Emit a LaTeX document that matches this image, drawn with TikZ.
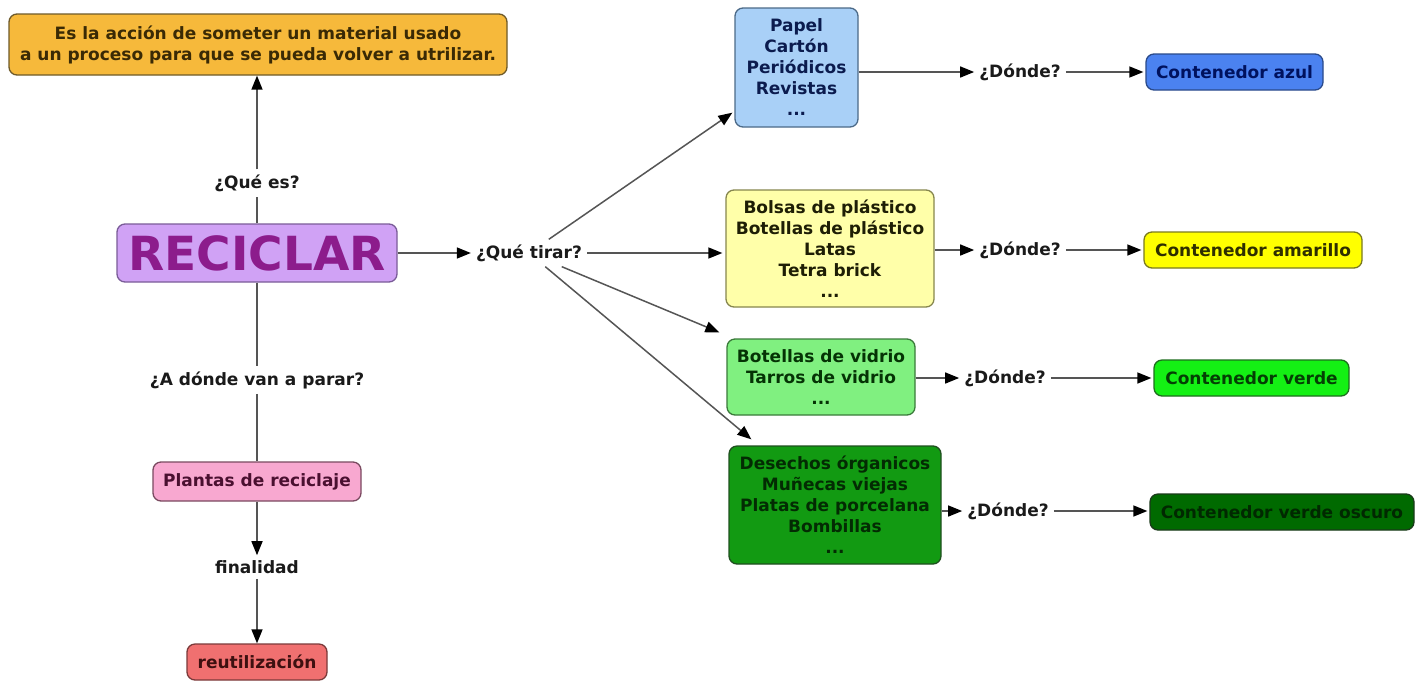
\documentclass[tikz,border=0pt]{standalone}
\usepackage{fontspec}
\setmainfont{DejaVu Sans}
\usetikzlibrary{arrows.meta,calc}
\definecolor{lnc}{HTML}{555555}
\definecolor{txc}{HTML}{1A1A1A}
\definecolor{defF}{HTML}{F6B93B}\definecolor{defT}{HTML}{3A2A05}\definecolor{defD}{HTML}{6E5A2A}
\definecolor{recF}{HTML}{D0A2F5}\definecolor{recT}{HTML}{8C1C8C}\definecolor{recD}{HTML}{7A5C98}
\definecolor{papF}{HTML}{A9D0F7}\definecolor{papT}{HTML}{0B1B4E}\definecolor{papD}{HTML}{4C6A88}
\definecolor{azuF}{HTML}{4B82F0}\definecolor{azuT}{HTML}{00125E}\definecolor{azuD}{HTML}{2A4A8A}
\definecolor{plaF}{HTML}{FFFFA9}\definecolor{plaT}{HTML}{1E1E05}\definecolor{plaD}{HTML}{86864E}
\definecolor{amaF}{HTML}{FFFF00}\definecolor{amaT}{HTML}{2E2E00}\definecolor{amaD}{HTML}{7A7A20}
\definecolor{vidF}{HTML}{80F080}\definecolor{vidT}{HTML}{053305}\definecolor{vidD}{HTML}{3A7A3A}
\definecolor{verF}{HTML}{14F014}\definecolor{verT}{HTML}{043F04}\definecolor{verD}{HTML}{1E6E1E}
\definecolor{orgF}{HTML}{129A12}\definecolor{orgT}{HTML}{032B03}\definecolor{orgD}{HTML}{1F4F1F}
\definecolor{oscF}{HTML}{006A00}\definecolor{oscT}{HTML}{012801}\definecolor{oscD}{HTML}{1A3A1A}
\definecolor{pinF}{HTML}{F8A8D0}\definecolor{pinT}{HTML}{4A1030}\definecolor{pinD}{HTML}{7A4A60}
\definecolor{reuF}{HTML}{F07070}\definecolor{reuT}{HTML}{3E1010}\definecolor{reuD}{HTML}{7A3A3A}
\tikzset{
  box/.style={draw, line width=1.3pt, rounded corners=8pt, align=center, inner sep=2pt,
    font=\fontsize{17}{21}\selectfont\bfseries},
  lbl/.style={align=center, inner sep=5pt, text=txc, font=\fontsize{17}{21}\selectfont\bfseries},
  con/.style={draw=lnc, line width=1.5pt},
  arr/.style={con, -{Triangle[length=14pt,width=11pt,color=black]}},
}
\begin{document}
\begin{tikzpicture}[x=1pt,y=-1pt]
\useasboundingbox[fill=white] (0,0) rectangle (1426,681);
% nodes
\node[box, fill=defF, draw=defD, text=defT, minimum width=498pt, minimum height=61pt] (def) at (258,44.5)
  {Es la acción de someter un material usado\\a un proceso para que se pueda volver a utrilizar.};
\node[box, fill=recF, draw=recD, text=recT, minimum width=280pt, minimum height=58pt,
  font=\fontsize{47}{50}\selectfont\bfseries] (rec) at (257,253) {RECICLAR};
\node[lbl] (quees) at (257,183) {¿Qué es?};
\node[lbl] (adonde) at (257,380) {¿A dónde van a parar?};
\node[box, fill=pinF, draw=pinD, text=pinT, minimum width=208pt, minimum height=39pt] (plantas) at (257,481.5) {Plantas de reciclaje};
\node[lbl] (final) at (257,567) {finalidad};
\node[box, fill=reuF, draw=reuD, text=reuT, minimum width=140pt, minimum height=36pt] (reut) at (257,662) {reutilización};
\node[lbl] (tirar) at (529,253) {¿Qué tirar?};
\node[box, fill=papF, draw=papD, text=papT, minimum width=123pt, minimum height=119pt] (papel) at (796.5,67.5)
  {Papel\\Cartón\\Periódicos\\Revistas\\...};
\node[box, fill=plaF, draw=plaD, text=plaT, minimum width=208pt, minimum height=117pt] (plast) at (830,248.5)
  {Bolsas de plástico\\Botellas de plástico\\Latas\\Tetra brick\\...};
\node[box, fill=vidF, draw=vidD, text=vidT, minimum width=188pt, minimum height=76pt] (vidrio) at (821,377)
  {Botellas de vidrio\\Tarros de vidrio\\...};
\node[box, fill=orgF, draw=orgD, text=orgT, minimum width=212pt, minimum height=118pt] (organ) at (835,505)
  {Desechos órganicos\\Muñecas viejas\\Platas de porcelana\\Bombillas\\...};
\node[lbl] (d1) at (1020,72) {¿Dónde?};
\node[lbl] (d2) at (1020,250) {¿Dónde?};
\node[lbl] (d3) at (1005,378) {¿Dónde?};
\node[lbl] (d4) at (1008,511) {¿Dónde?};
\node[box, fill=azuF, draw=azuD, text=azuT, minimum width=177pt, minimum height=36pt] (cazul) at (1234.5,72) {Contenedor azul};
\node[box, fill=amaF, draw=amaD, text=amaT, minimum width=218pt, minimum height=36pt] (cama) at (1253,250) {Contenedor amarillo};
\node[box, fill=verF, draw=verD, text=verT, minimum width=195pt, minimum height=36pt] (cver) at (1251.5,378) {Contenedor verde};
\node[box, fill=oscF, draw=oscD, text=oscT, minimum width=264pt, minimum height=36pt] (cosc) at (1282,512) {Contenedor verde oscuro};
% tip coordinates
\coordinate (tpap) at ($(papel.south west)+(-2,-15)$);
\coordinate (tvid) at ($(vidrio.north west)+(-7,-6)$);
\coordinate (torg) at ($(organ.north west)+(23,-6)$);
% connectors
\draw[con] (rec.north) -- (quees.south);
\draw[arr] (quees.north) -- (quees.north |- def.south);
\draw[con] (rec.south) -- (adonde.north);
\draw[con] (adonde.south) -- (plantas.north);
\draw[arr] (plantas.south) -- (final.north);
\draw[arr] (final.south) -- (reut.north);
\draw[arr] (rec.east) -- (tirar.west);
\draw[arr] (tirar) -- (tpap);
\draw[arr, shorten >=3pt] (tirar.east) -- (plast.west |- tirar.east);
\draw[arr] (tirar) -- (tvid);
\draw[arr] (tirar) -- (torg);
\draw[arr] (papel.east |- d1.west) -- (d1.west);
\draw[arr, shorten >=2pt] (d1.east) -- (cazul.west);
\draw[arr] (plast.east |- d2.west) -- (d2.west);
\draw[arr, shorten >=2pt] (d2.east) -- (cama.west);
\draw[arr] (vidrio.east |- d3.west) -- (d3.west);
\draw[arr, shorten >=2pt] (d3.east) -- (cver.west);
\draw[arr] (organ.east |- d4.west) -- (d4.west);
\draw[arr, shorten >=2pt] (d4.east) -- (cosc.west |- d4.east);
\end{tikzpicture}
\end{document}
